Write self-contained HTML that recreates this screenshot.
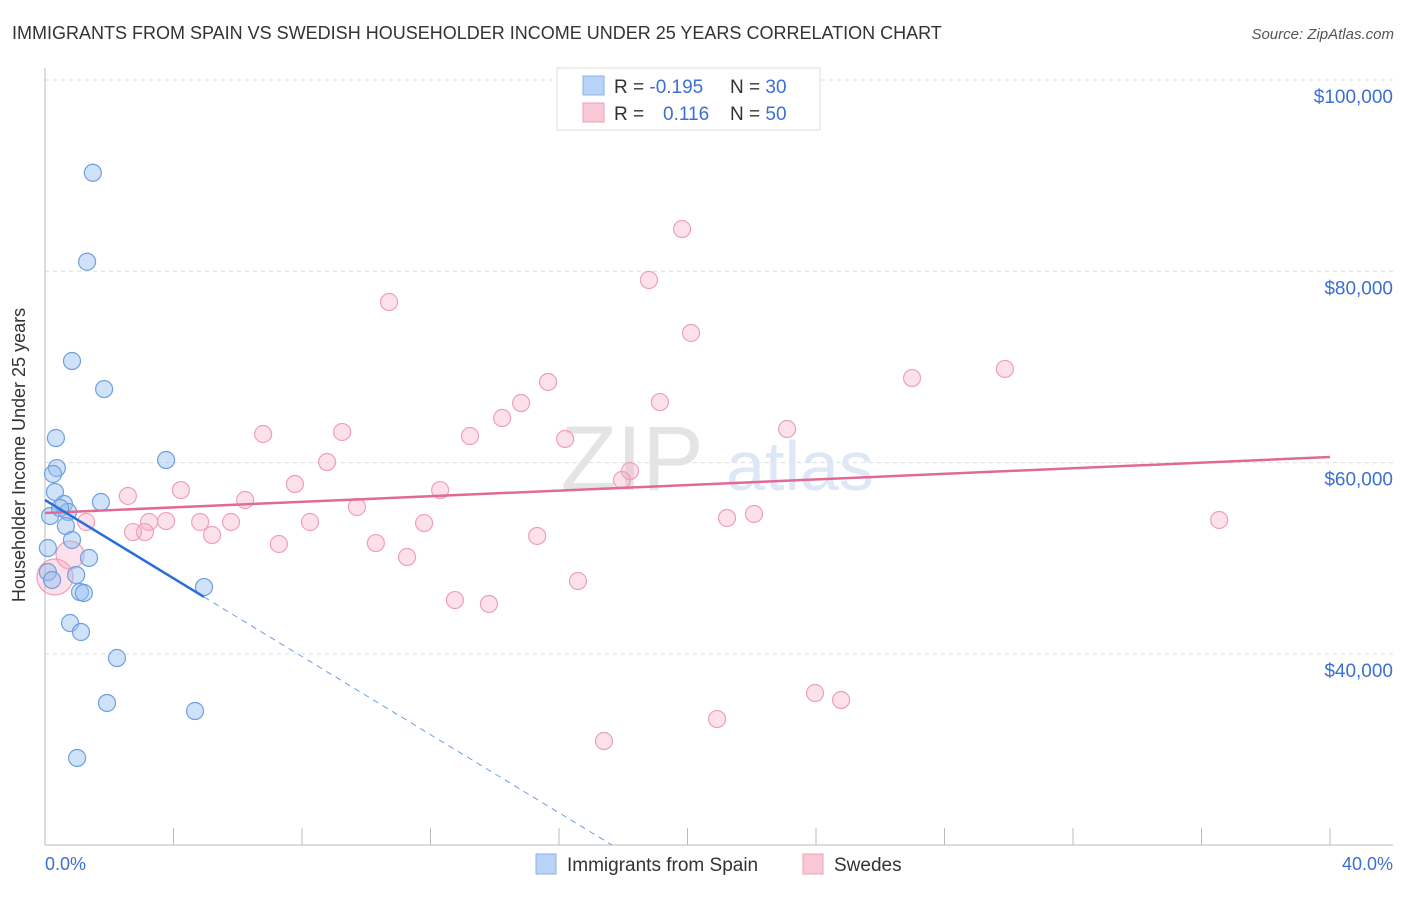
<!DOCTYPE html>
<html><head><meta charset="utf-8"><style>
body{margin:0;background:#fff;font-family:"Liberation Sans",sans-serif}
svg text{font-family:"Liberation Sans",sans-serif}
</style></head><body>
<svg width="1406" height="892" xmlns="http://www.w3.org/2000/svg">
<text x="12" y="39" font-size="18" fill="#333">IMMIGRANTS FROM SPAIN VS SWEDISH HOUSEHOLDER INCOME UNDER 25 YEARS CORRELATION CHART</text>
<text x="1394" y="39" font-size="15" fill="#555" font-style="italic" text-anchor="end">Source: ZipAtlas.com</text>
<g id="grid"></g>
<g id="wm"><text x="632" y="490" font-size="92" fill="#e4e4e4" font-family="Liberation Serif" text-anchor="middle">ZIP</text><text x="800" y="490" font-size="70" fill="#dde7f5" text-anchor="middle">atlas</text></g>
<g id="marks"></g>
<text x="25" y="455" font-size="18" fill="#333" transform="rotate(-90 25 455)" text-anchor="middle">Householder Income Under 25 years</text>
<text x="45" y="870" font-size="18" fill="#3b6fd4">0.0%</text>
<text x="1393" y="870" font-size="18" fill="#3b6fd4" text-anchor="end">40.0%</text>
<g>
<rect x="557" y="68" width="263" height="62" fill="#fff" stroke="#ddd"/>
<rect x="583" y="76" width="21" height="19" fill="#b8d3f5" stroke="#8ab0e8"/>
<rect x="583" y="103" width="21" height="19" fill="#f9c8d5" stroke="#eca0b8"/>
<text x="614" y="93" font-size="19" fill="#333">R = <tspan fill="#3b6fd4">-0.195</tspan><tspan x="730">N = </tspan><tspan fill="#3b6fd4">30</tspan></text>
<text x="614" y="120" font-size="19" fill="#333">R = <tspan x="663" fill="#3b6fd4">0.116</tspan><tspan x="730">N = </tspan><tspan fill="#3b6fd4">50</tspan></text>
</g>
<g>
<rect x="536" y="854" width="20" height="20" fill="#b8d3f5" stroke="#8ab0e8"/>
<text x="567" y="871" font-size="19" fill="#333">Immigrants from Spain</text>
<rect x="803" y="854" width="20" height="20" fill="#f9c8d5" stroke="#eca0b8"/>
<text x="834" y="871" font-size="19" fill="#333">Swedes</text>
</g>
</svg>
<script>
const yTicks=[40000,60000,80000,100000];
const yTickLabels=["$40,000","$60,000","$80,000","$100,000"];
const blueX=[1.49,1.31,0.84,1.84,0.34,0.37,3.77,0.25,0.31,0.59,0.16,0.72,0.47,0.65,1.74,0.84,0.09,1.37,0.09,0.97,1.09,1.21,0.78,1.12,4.95,2.24,1.93,4.67,1.00,0.22];
const blueY=[90300,81000,70620,67690,62570,59430,60270,58810,56930,55670,54420,54840,55250,53370,55880,51910,51070,50030,48560,48250,46470,46370,43230,42290,46990,39570,34870,34030,29120,47730];
const pinkX=[19.83,18.80,10.71,20.11,15.66,26.99,29.88,14.82,19.14,14.23,6.79,9.25,13.23,16.19,23.10,8.78,18.21,17.96,7.78,4.23,12.30,2.58,6.23,9.71,1.28,3.24,3.77,4.83,5.79,8.25,11.80,21.23,22.07,36.55,3.11,2.74,5.20,15.32,7.28,10.30,11.27,0.78,16.59,12.76,13.82,0.31,23.97,24.78,20.92,17.40];
const pinkY=[84420,79090,76790,73550,68430,68840,69790,66230,66330,64660,62990,63200,62780,62470,63510,60060,59120,58180,57760,57130,57130,56510,56090,55360,53790,53790,53890,53790,53790,53790,53680,54210,54630,54000,52740,52740,52430,52330,51490,51590,50130,50340,47620,45630,45220,48040,35910,35180,33190,30890];
const pinkBig=[0,0,0,0,0,0,0,0,0,0,0,0,0,0,0,0,0,0,0,0,0,0,0,0,0,0,0,0,0,0,0,0,0,0,0,0,0,0,0,0,0,1,0,0,0,2,0,0,0,0];
const blueTrend=[0,56090,4.95,45950,17.65,20020];
const pinkTrend=[0,54730,40,60580];
const NS="http://www.w3.org/2000/svg";
const sx=v=>45+v/40*1285;
const sy=v=>80+(100000-v)/20000*191.3;
function mk(t,a,p){const e=document.createElementNS(NS,t);for(const k in a)e.setAttribute(k,a[k]);p.appendChild(e);return e;}
const g=document.getElementById('grid');
yTicks.forEach((v,i)=>{
 const l=mk('line',{x1:45,x2:1393,y1:sy(v),y2:sy(v),stroke:'#ddd','stroke-dasharray':'4,4'},g);
 
 
 const t=mk('text',{x:1393,y:sy(v)+23,'font-size':19,fill:'#3b6fd4','text-anchor':'end'},g);
 t.textContent=yTickLabels[i];
 
 
});
const ax=mk('line',{x1:45,x2:1393,y1:845,y2:845,stroke:'#bbb'},g);


const ay=mk('line',{x1:45,x2:45,y1:68,y2:845,stroke:'#bbb'},g);


for(let i=1;i<=10;i++){const tk=mk('line',{x1:sx(i*4),x2:sx(i*4),y1:828,y2:845,stroke:'#bbb'},g);
 
 }
const m=document.getElementById('marks');
pinkX.forEach((x,i)=>{const r=pinkBig[i]==2?18:pinkBig[i]==1?14:8.5;
 const c=mk('circle',{cx:sx(x),cy:sy(pinkY[i]),r:r,fill:'rgba(245,170,195,0.35)',stroke:'#eea0b8','stroke-width':1.2},m);
 
 });
blueX.forEach((x,i)=>{
 const c=mk('circle',{cx:sx(x),cy:sy(blueY[i]),r:8.5,fill:'rgba(150,190,240,0.45)',stroke:'#6f9fe0','stroke-width':1.2},m);
 
 });
const pl=mk('line',{x1:sx(pinkTrend[0]),y1:sy(pinkTrend[1]),x2:sx(pinkTrend[2]),y2:sy(pinkTrend[3]),stroke:'#e06a95','stroke-width':2.5},m);


const bl=mk('line',{x1:sx(blueTrend[0]),y1:sy(blueTrend[1]),x2:sx(blueTrend[2]),y2:sy(blueTrend[3]),stroke:'#2a6fd8','stroke-width':2.5},m);


const bd=mk('line',{x1:sx(blueTrend[2]),y1:sy(blueTrend[3]),x2:sx(blueTrend[4]),y2:sy(blueTrend[5]),stroke:'#6f9fe0','stroke-width':1,'stroke-dasharray':'6,5'},m);


</script>
</body></html>
